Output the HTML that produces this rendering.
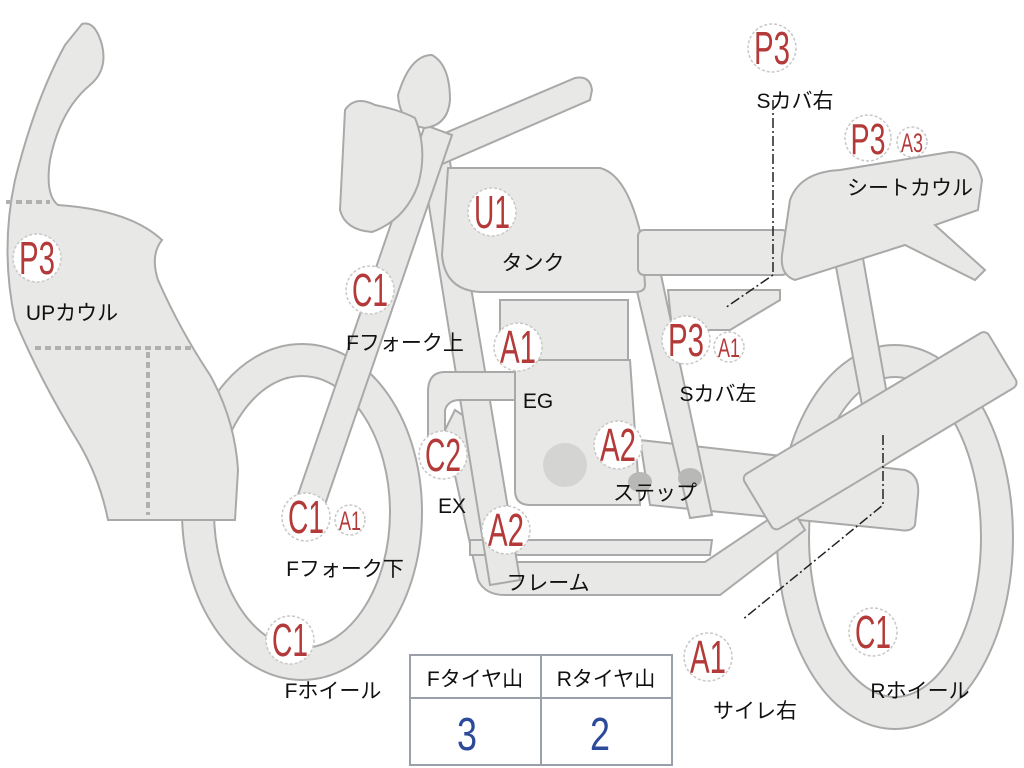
<!DOCTYPE html>
<html><head><meta charset="utf-8"><style>
html,body{margin:0;padding:0;background:#fff;}
svg{display:block;}
.s{fill:#e8e8e6;stroke:#a9a9a9;stroke-width:2;}
.c{fill:#fff;stroke:#c8c8c8;stroke-width:1.5;stroke-dasharray:3 2;}
.r{fill:#b43a3a;font-family:"Liberation Sans",sans-serif;text-anchor:middle;}
.k{fill:#111;font-family:"Liberation Sans","Noto Sans CJK JP",sans-serif;font-size:21px;text-anchor:middle;}
</style></head><body>
<svg width="1024" height="768" viewBox="0 0 1024 768" xmlns="http://www.w3.org/2000/svg">
<ellipse cx="302" cy="512" rx="104" ry="152" fill="none" stroke="#a9a9a9" stroke-width="34"/>
<ellipse cx="302" cy="512" rx="104" ry="152" fill="none" stroke="#e8e8e6" stroke-width="30"/>
<ellipse cx="895" cy="537" rx="102" ry="176" fill="none" stroke="#a9a9a9" stroke-width="34"/>
<ellipse cx="895" cy="537" rx="102" ry="176" fill="none" stroke="#e8e8e6" stroke-width="30"/>
<polygon class="s" points="830,235 858,230 888,400 862,405"/>
<path class="s" d="M640,440 L905,470 Q920,475 918,495 L915,525 Q912,532 900,530 L650,505 Z"/>
<path class="s" d="M455,410 L445,430 L478,580 Q485,595 505,595 L720,595 L805,530 L790,505 L705,562 L500,562 Q492,560 490,550 L470,420 Z"/>
<path class="s" d="M470,540 L470,555 L710,555 L712,540 Z"/>
<rect class="s" x="500" y="300" width="128" height="60"/>
<path class="s" d="M515,360 L630,360 L640,505 L530,505 Q515,505 515,490 Z"/>
<circle cx="565" cy="465" r="22" fill="#d4d4d2"/>
<polygon class="s" points="420,150 448,150 520,580 490,585"/>
<polygon class="s" points="632,270 660,270 712,515 690,518"/>
<path class="s" d="M515,372 L445,372 Q428,372 428,392 L428,440 L445,445 L445,410 Q448,400 460,400 L515,400 Z"/>
<ellipse cx="640" cy="482" rx="12" ry="10" fill="#b8b8b6"/>
<ellipse cx="690" cy="478" rx="12" ry="10" fill="#b8b8b6"/>
<path class="s" d="M448,168 L600,168 Q628,175 642,240 L645,285 Q645,292 635,292 L480,292 Q445,290 442,255 Z"/>
<rect class="s" x="638" y="230" width="150" height="45" rx="6"/>
<path class="s" d="M790,200 Q800,172 840,170 L950,152 Q975,152 982,180 L978,210 L935,225 L985,270 L975,280 L905,245 L795,280 Q780,275 782,255 Z"/>
<polygon class="s" points="668,290 780,290 780,300 730,330 672,330"/>
<path class="s" d="M405,150 L575,78 Q590,75 592,90 L590,100 L440,165 Z"/>
<polygon class="s" points="425,125 452,135 318,525 290,518"/>
<path class="s" d="M398,95 Q410,55 432,55 Q450,65 450,100 Q448,125 425,128 Q400,125 398,95 Z"/>
<path class="s" d="M345,110 Q355,95 375,105 Q400,110 415,118 Q428,150 418,185 Q405,220 372,232 Q345,230 340,210 Z"/>
<g transform="translate(878,432) rotate(-31)"><rect class="s" x="-140" y="-32" width="285" height="64" rx="6"/></g>
<path class="s" d="M82,24 Q95,20 102,45 Q108,70 90,85 Q60,110 50,160 Q45,195 58,205 Q130,210 162,240 Q150,255 158,280 Q180,330 210,375 Q235,420 238,470 L235,520 L108,520 Q100,480 80,445 Q40,380 15,320 Q0,250 15,180 Q35,100 65,45 Z"/>
<g stroke="#b0b0b0" stroke-width="4" stroke-dasharray="6 4" fill="none">
<line x1="6" y1="202" x2="50" y2="202"/><line x1="35" y1="348" x2="192" y2="348"/><line x1="148" y1="352" x2="148" y2="515"/>
</g>
<g stroke="#222" stroke-width="1.5" fill="none" stroke-dasharray="10 3 2 3">
<polyline points="773,100 773,275 725,308"/>
<polyline points="883,435 883,505 742,620"/>
</g>
<g>
<circle class="c" cx="772" cy="48" r="24"/><text class="r" x="772" y="64" font-size="46" textLength="36" lengthAdjust="spacingAndGlyphs">P3</text>
<circle class="c" cx="868" cy="138" r="23"/><text class="r" x="868" y="154" font-size="44" textLength="35" lengthAdjust="spacingAndGlyphs">P3</text>
<circle class="c" cx="912" cy="142" r="15"/><text class="r" x="912" y="152" font-size="27" textLength="22" lengthAdjust="spacingAndGlyphs">A3</text>
<circle class="c" cx="492" cy="212" r="24"/><text class="r" x="492" y="228" font-size="46" textLength="36" lengthAdjust="spacingAndGlyphs">U1</text>
<circle class="c" cx="37" cy="258" r="24"/><text class="r" x="37" y="274" font-size="46" textLength="36" lengthAdjust="spacingAndGlyphs">P3</text>
<circle class="c" cx="370" cy="290" r="24"/><text class="r" x="370" y="306" font-size="46" textLength="36" lengthAdjust="spacingAndGlyphs">C1</text>
<circle class="c" cx="518" cy="347" r="24"/><text class="r" x="518" y="363" font-size="46" textLength="36" lengthAdjust="spacingAndGlyphs">A1</text>
<circle class="c" cx="686" cy="340" r="24"/><text class="r" x="686" y="356" font-size="46" textLength="36" lengthAdjust="spacingAndGlyphs">P3</text>
<circle class="c" cx="729" cy="347" r="15"/><text class="r" x="729" y="357" font-size="27" textLength="22" lengthAdjust="spacingAndGlyphs">A1</text>
<circle class="c" cx="443" cy="455" r="24"/><text class="r" x="443" y="471" font-size="46" textLength="36" lengthAdjust="spacingAndGlyphs">C2</text>
<circle class="c" cx="618" cy="445" r="24"/><text class="r" x="618" y="461" font-size="46" textLength="36" lengthAdjust="spacingAndGlyphs">A2</text>
<circle class="c" cx="306" cy="517" r="24"/><text class="r" x="306" y="533" font-size="46" textLength="36" lengthAdjust="spacingAndGlyphs">C1</text>
<circle class="c" cx="350" cy="520" r="15"/><text class="r" x="350" y="530" font-size="27" textLength="22" lengthAdjust="spacingAndGlyphs">A1</text>
<circle class="c" cx="506" cy="530" r="24"/><text class="r" x="506" y="546" font-size="46" textLength="36" lengthAdjust="spacingAndGlyphs">A2</text>
<circle class="c" cx="290" cy="640" r="24"/><text class="r" x="290" y="656" font-size="46" textLength="36" lengthAdjust="spacingAndGlyphs">C1</text>
<circle class="c" cx="708" cy="657" r="24"/><text class="r" x="708" y="673" font-size="46" textLength="36" lengthAdjust="spacingAndGlyphs">A1</text>
<circle class="c" cx="873" cy="632" r="24"/><text class="r" x="873" y="648" font-size="46" textLength="36" lengthAdjust="spacingAndGlyphs">C1</text>
</g>
<text class="k" x="795" y="108">Sカバ右</text>
<text class="k" x="910" y="195">シートカウル</text>
<text class="k" x="533" y="270">タンク</text>
<text class="k" x="72" y="320">UPカウル</text>
<text class="k" x="405" y="350">Fフォーク上</text>
<text class="k" x="538" y="408">EG</text>
<text class="k" x="718" y="401">Sカバ左</text>
<text class="k" x="452" y="513">EX</text>
<text class="k" x="655" y="500">ステップ</text>
<text class="k" x="345" y="576">Fフォーク下</text>
<text class="k" x="548" y="590">フレーム</text>
<text class="k" x="333" y="698">Fホイール</text>
<text class="k" x="755" y="718">サイレ右</text>
<text class="k" x="920" y="698">Rホイール</text>
<g fill="none" stroke="#9aa0aa" stroke-width="2">
<rect x="410" y="655" width="262" height="110" fill="#fff"/>
<line x1="410" y1="698" x2="672" y2="698"/><line x1="541" y1="655" x2="541" y2="765"/>
</g>
<text class="k" x="475" y="686">Fタイヤ山</text>
<text class="k" x="606" y="686">Rタイヤ山</text>
<text x="467" y="750" font-size="46" fill="#2c4a9a" font-family="Liberation Sans,sans-serif" text-anchor="middle" textLength="20" lengthAdjust="spacingAndGlyphs">3</text>
<text x="600" y="750" font-size="46" fill="#2c4a9a" font-family="Liberation Sans,sans-serif" text-anchor="middle" textLength="20" lengthAdjust="spacingAndGlyphs">2</text>
</svg>
</body></html>
